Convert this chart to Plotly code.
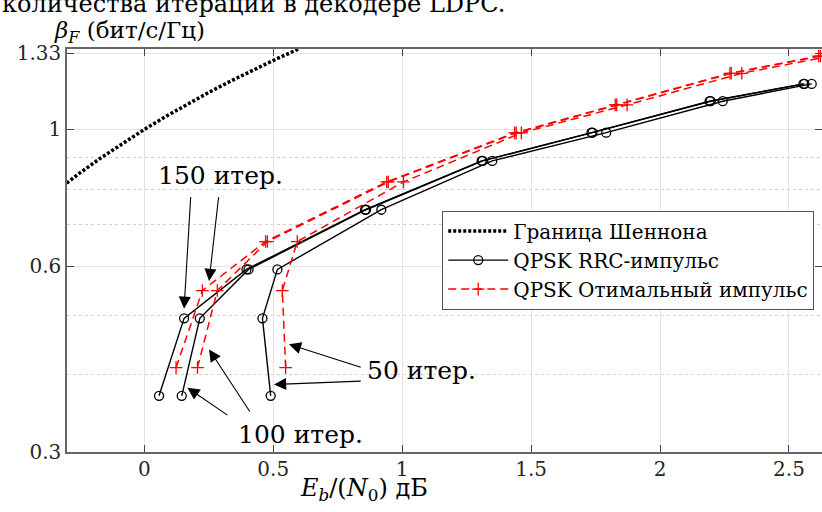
import math
import plotly.graph_objects as go

# ---- data ----
shannon_ebn0 = [-0.332, -0.250, -0.167, -0.083, 0.0, 0.084, 0.168, 0.253, 0.339, 0.425, 0.511, 0.598]
shannon_beta = [0.80, 0.85, 0.90, 0.95, 1.00, 1.05, 1.10, 1.15, 1.20, 1.25, 1.30, 1.35]

rrc_beta = [0.370, 0.494, 0.593, 0.741, 0.889, 0.988, 1.111, 1.185]
rrc_150 = [0.057, 0.154, 0.396, 0.856, 1.308, 1.734, 2.192, 2.556]
rrc_100 = [0.145, 0.215, 0.404, 0.860, 1.312, 1.738, 2.196, 2.560]
rrc_50 = [0.490, 0.458, 0.516, 0.919, 1.349, 1.791, 2.243, 2.588]

opt_beta = [0.411, 0.548, 0.658, 0.822, 0.987, 1.096, 1.233, 1.315]
opt_150 = [0.123, 0.225, 0.470, 0.940, 1.436, 1.826, 2.271, 2.615]
opt_100 = [0.206, 0.283, 0.477, 0.946, 1.442, 1.832, 2.276, 2.622]
opt_50 = [0.548, 0.535, 0.593, 1.005, 1.462, 1.872, 2.317, 2.660]

x_ticks = [0, 0.5, 1, 1.5, 2, 2.5]
x_tick_text = ["0", "0.5", "1", "1.5", "2", "2.5"]
y_ticks = [0.3, 0.6, 1.0, 1.33]
y_tick_text = ["0.3", "0.6", "1", "1.33"]
y_minor = [0.4, 0.5, 0.7, 0.8, 0.9]

FONT = "DejaVu Serif"
L = math.log10

fig = go.Figure()

fig.add_trace(go.Scatter(
    x=shannon_ebn0, y=shannon_beta, mode="lines", name="Граница Шеннона",
    line=dict(color="black", width=3.5, dash="3px,2px"),
))

for i, xs in enumerate([rrc_150, rrc_100, rrc_50]):
    fig.add_trace(go.Scatter(
        x=xs, y=rrc_beta, mode="lines+markers", name="QPSK RRC-импульс",
        showlegend=(i == 0), legendgroup="rrc",
        line=dict(color="black", width=1.4),
        marker=dict(symbol="circle-open", size=9, color="black", line=dict(width=1.3)),
    ))

for i, xs in enumerate([opt_150, opt_100, opt_50]):
    fig.add_trace(go.Scatter(
        x=xs, y=opt_beta, mode="lines+markers", name="QPSK Отимальный импульс",
        showlegend=(i == 0), legendgroup="opt",
        line=dict(color="red", width=1.5, dash="8px,5px"),
        marker=dict(symbol="cross-thin-open", size=9, color="red", line=dict(width=1.3, color="red")),
    ))

# ---- annotations: iteration labels with arrows ----
def arrow(tail, tip):
    return dict(x=tip[0], y=L(tip[1]), ax=tail[0], ay=L(tail[1]),
                xref="x", yref="y", axref="x", ayref="y", text="",
                showarrow=True, arrowhead=2, arrowsize=2.2, arrowwidth=1.1,
                arrowcolor="black")

def label(pos, text):
    return dict(x=pos[0], y=L(pos[1]), xref="x", yref="y", text=text,
                showarrow=False, font=dict(family=FONT, size=25, color="black"),
                xanchor="center", yanchor="middle")

annotations = [
    label((0.296, 0.842), "150 итер."),
    arrow((0.180, 0.781), (0.154, 0.512)),
    arrow((0.2885, 0.781), (0.251, 0.568)),
    label((0.606, 0.3205), "100 итер."),
    arrow((0.328, 0.343), (0.167, 0.3814)),
    arrow((0.4125, 0.347), (0.251, 0.440)),
    label((1.075, 0.406), "50 итер."),
    arrow((0.845, 0.411), (0.561, 0.4484)),
    arrow((0.845, 0.391), (0.503, 0.386)),
    # axis titles
    dict(x=-0.02, y=1.0, xref="paper", yref="paper", xanchor="left", yanchor="bottom",
         text="<i>β</i><sub><i>F</i></sub> (бит/с/Гц)", showarrow=False,
         font=dict(family=FONT, size=23, color="black")),
    dict(x=0.85, y=-0.05, xref="x", yref="paper", xanchor="center", yanchor="top",
         text="<i>E</i><sub><i>b</i></sub>/(<i>N</i><sub>0</sub>) дБ", showarrow=False,
         font=dict(family=FONT, size=24, color="black")),
    # text of the document line above the figure, cut off at the top
    dict(x=-0.089, y=1.073, xref="paper", yref="paper", xanchor="left", yanchor="bottom",
         text="количества итераций в декодере LDPC.", showarrow=False,
         font=dict(family=FONT, size=24, color="black")),
]

fig.update_layout(
    width=822, height=512,
    margin=dict(l=67, r=0, t=49, b=60, autoexpand=False),
    paper_bgcolor="white", plot_bgcolor="white",
    font=dict(family=FONT, size=20, color="#262626"),
    showlegend=True,
    legend=dict(x=0.497, y=0.599, xanchor="left", yanchor="top",
                bgcolor="white", bordercolor="#555555", borderwidth=1,
                font=dict(family=FONT, size=20, color="black"),
                itemwidth=60, tracegroupgap=0),
    annotations=annotations,
)

fig.update_xaxes(
    range=[-0.3, 2.628], tickvals=x_ticks, ticktext=x_tick_text,
    showgrid=True, gridcolor="#e3e3e3", gridwidth=1,
    showline=True, linecolor="#666666", linewidth=1.5, mirror="ticks",
    ticks="inside", ticklen=7, tickcolor="#444444", tickwidth=1,
    ticklabelstandoff=-2,
    zeroline=False, tickfont=dict(family=FONT, size=20, color="#262626"),
)

fig.update_yaxes(
    type="log", range=[L(0.3), L(1.35)], tickvals=y_ticks, ticktext=y_tick_text,
    showgrid=True, gridcolor="#e3e3e3", gridwidth=1,
    minor=dict(tickvals=y_minor, showgrid=True, gridcolor="#cfcfcf", griddash="dot",
               gridwidth=1, ticks=""),
    showline=True, linecolor="#666666", linewidth=1.5, mirror="ticks",
    ticks="inside", ticklen=7, tickcolor="#444444", tickwidth=1,
    zeroline=False, tickfont=dict(family=FONT, size=20, color="#262626"),
)

fig.write_html("out.html")
